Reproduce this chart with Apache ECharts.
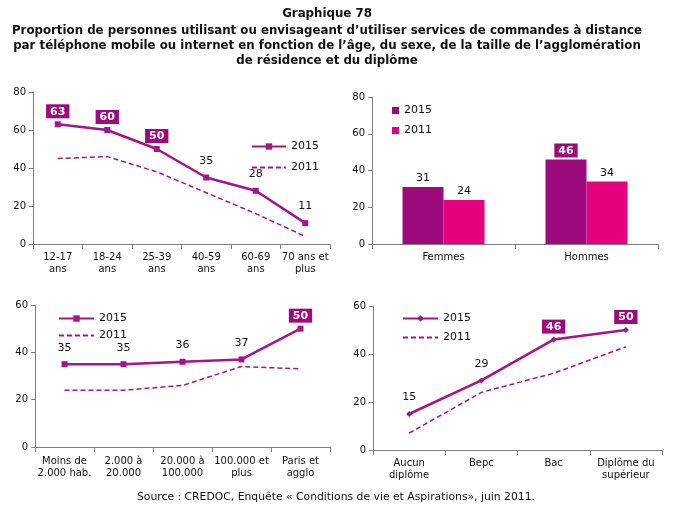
<!DOCTYPE html>
<html><head><meta charset="utf-8">
<script src="https://cdn.jsdelivr.net/npm/echarts@6/dist/echarts.min.js"></script>
<style>html,body{margin:0;padding:0;background:#fff}#c{width:675px;height:516px}</style>
</head><body><div id="c"></div>
<script>
const ageCats = ['12-17\nans','18-24\nans','25-39\nans','40-59\nans','60-69\nans','70 ans et\nplus'];
const age2015 = [63,60,50,35,28,11];
const age2011 = [45,46,38,27,16,4];
const sexCats = ['Femmes','Hommes'];
const sex2015 = [31,46];
const sex2011 = [24,34];
const aggloCats = ['Moins de\n2.000 hab.','2.000 à\n20.000','20.000 à\n100.000','100.000 et\nplus','Paris et\nagglo'];
const agglo2015 = [35,35,36,37,50];
const agglo2011 = [24,24,26,34,33];
const dipCats = ['Aucun\ndiplôme','Bepc','Bac','Diplôme du\nsupérieur'];
const dip2015 = [15,29,46,50];
const dip2011 = [7,24,32,43];
const titleLines = ['Graphique 78',
 'Proportion de personnes utilisant ou envisageant d\u2019utiliser services de commandes à distance',
 'par téléphone mobile ou internet en fonction de l\u2019âge, du sexe, de la taille de l\u2019agglomération',
 'de résidence et du diplôme'];
const sourceText = 'Source : CREDOC, Enquête « Conditions de vie et Aspirations», juin 2011.';

const PURPLE = '#9c0b7c';
const LINE = '#a3168b';
const PINK = '#e5007d';
const FONT = 'DejaVu Sans';
const AX = '#7f7f7f';
const BOX_THRESHOLD = 40;

const chart = echarts.init(document.getElementById('c'));

const grids = [
  {left:33, top:92, width:297, height:152},
  {left:372, top:97, width:286, height:147},
  {left:35, top:305, width:295, height:142},
  {left:373, top:306, width:289, height:144}
];
const cats = [ageCats, sexCats, aggloCats, dipCats];
const maxes = [80, 80, 60, 60];

const xAxis = cats.map((c,i)=>({
  type:'category', gridIndex:i, data:c, boundaryGap:true,
  axisLine:{lineStyle:{color:AX,width:1}},
  axisTick:{show:true, length:5, lineStyle:{color:AX}},
  axisLabel:{fontFamily:FONT, fontSize:10, color:'#111', margin:i===2?8:7, lineHeight:12, interval:0}
}));
const yAxis = maxes.map((m,i)=>({
  type:'value', gridIndex:i, min:0, max:m, interval:20,
  splitLine:{show:false},
  axisLine:{show:true, lineStyle:{color:AX,width:1}},
  axisTick:{show:true, length:4, lineStyle:{color:AX}},
  axisLabel:{fontFamily:FONT, fontSize:10, color:'#111', margin:7}
}));

const boxStyle = {backgroundColor:PURPLE, color:'#fff', fontWeight:'bold', fontFamily:FONT, fontSize:11, padding:[2,4,1,4]};
const plainStyle = {color:'#111', fontFamily:FONT, fontSize:11, backgroundColor:'transparent', fontWeight:'normal', padding:0};
function items(vals, dBox, dPlain){
  return vals.map(v=>{
    const boxed = v>=BOX_THRESHOLD;
    return {value:v, label:Object.assign({show:true, position:'top', distance: boxed?dBox:dPlain}, boxed?boxStyle:plainStyle)};
  });
}
function line2015(name, i, data, sym, size){
  return {name:name, type:'line', xAxisIndex:i, yAxisIndex:i, data:items(data,3,8),
    symbol:sym, symbolSize:size, showAllSymbol:true,
    itemStyle:{color:LINE}, lineStyle:{color:LINE, width:2.5}, z:3, animation:false};
}
function line2011(name, i, data){
  return {name:name, type:'line', xAxisIndex:i, yAxisIndex:i, data:data,
    symbol:'none', itemStyle:{color:LINE}, lineStyle:{color:LINE, width:1.5, type:[5,3]},
    z:2, animation:false};
}

const series = [
  line2015('2015_a',0,age2015,'rect',6),
  line2011('2011_a',0,age2011),
  {name:'2015_b', type:'bar', xAxisIndex:1, yAxisIndex:1, data:items(sex2015,2,3), barWidth:41, barGap:'0%',
    itemStyle:{color:PURPLE}, animation:false},
  {name:'2011_b', type:'bar', xAxisIndex:1, yAxisIndex:1, data:items(sex2011,2,3), barWidth:41, barGap:'0%',
    itemStyle:{color:PINK}, animation:false},
  line2015('2015_c',2,agglo2015,'rect',6),
  line2011('2011_c',2,agglo2011),
  line2015('2015_d',3,dip2015,'diamond',6),
  line2011('2011_d',3,dip2011)
];

const legTxt = {fontFamily:FONT, fontSize:11, color:'#111'};
const fmt = n=>n.split('_')[0];
const noSym = n=>({name:n, itemStyle:{opacity:0}});
const legend = [
  {data:['2015_a',noSym('2011_a')], left:246, top:136, orient:'vertical', itemWidth:34, itemHeight:8, itemGap:10, textStyle:legTxt, formatter:fmt, selectedMode:false},
  {data:['2015_b','2011_b'], left:387, top:100, orient:'vertical', icon:'rect', itemWidth:7, itemHeight:7, itemGap:9, textStyle:legTxt, formatter:fmt, selectedMode:false},
  {data:['2015_c',noSym('2011_c')], left:53, top:308, orient:'vertical', itemWidth:35, itemHeight:8, itemGap:6, textStyle:legTxt, formatter:fmt, selectedMode:false},
  {data:['2015_d',noSym('2011_d')], left:397, top:308, orient:'vertical', itemWidth:35, itemHeight:8, itemGap:8, textStyle:legTxt, formatter:fmt, selectedMode:false}
];

const ty = [14, 31, 46, 61];
const graphic = titleLines.map((t,k)=>({
  type:'text', x:327, y:ty[k],
  style:{text:t, fill:'#111', font:'bold 11.8px "DejaVu Sans"', textAlign:'center', textVerticalAlign:'middle'}
}));
graphic.push({type:'text', x:336, y:497,
  style:{text:sourceText, fill:'#111', font:'10.8px "DejaVu Sans"', textAlign:'center', textVerticalAlign:'middle'}});

chart.setOption({
  animation:false,
  grid:grids, xAxis:xAxis, yAxis:yAxis, series:series, legend:legend, graphic:graphic
});
</script></body></html>
